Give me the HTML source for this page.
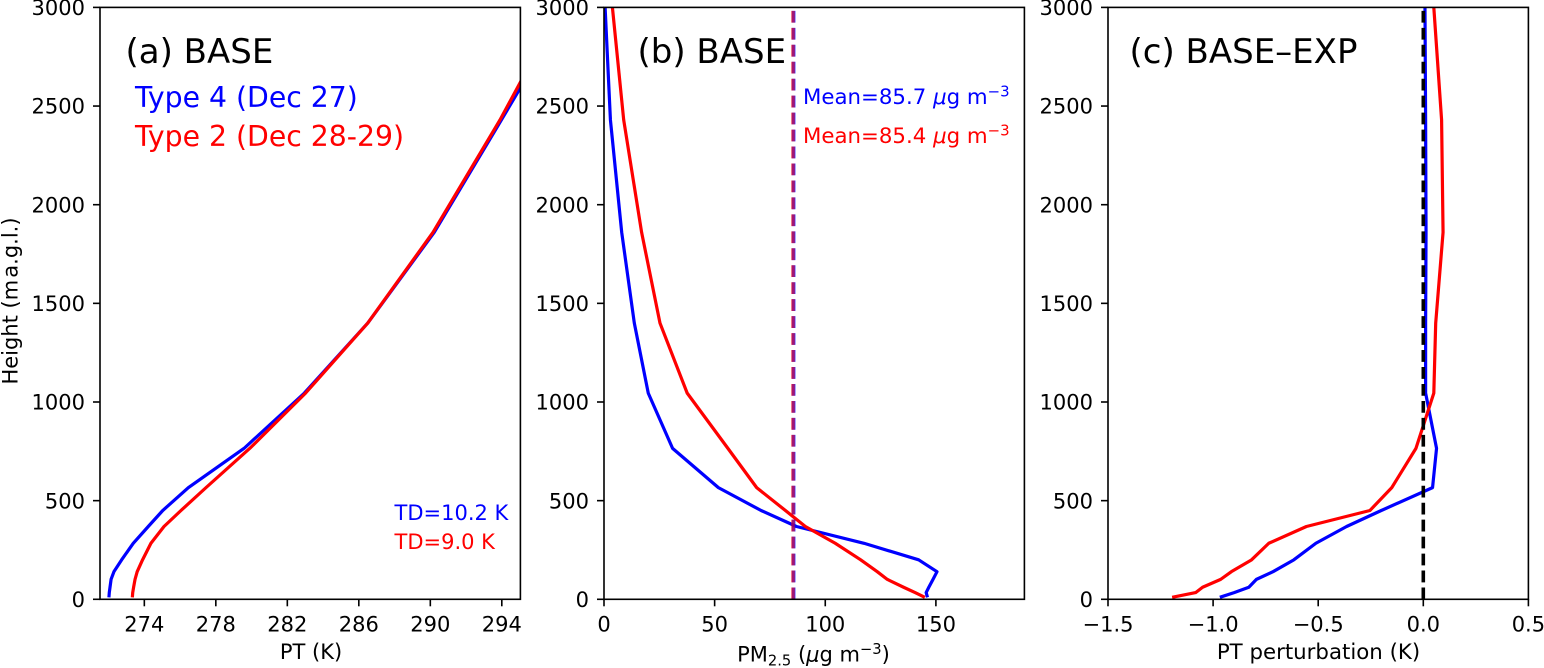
<!DOCTYPE html>
<html lang="en">
<head>
<meta charset="utf-8">
<title>Vertical profiles of PT and PM2.5</title>
<style>
html,body{margin:0;padding:0;background:#fff;}
#chart{display:block;position:absolute;left:0;top:0;}
text{font-family:"DejaVu Sans","Liberation Sans",sans-serif;font-size:21px;fill:#000;}
.title{font-size:34px;}
.legend{font-size:28.3px;}
.mean{font-size:21.3px;}
</style>
</head>
<body>
<svg id="chart" xmlns="http://www.w3.org/2000/svg" width="1544" height="668" viewBox="0 0 1544 668">
  <rect x="0" y="0" width="1544" height="668" fill="#fff"/>
  <defs>
    <clipPath id="clip-a"><rect x="100" y="7.4" width="420.4" height="591.9"/></clipPath>
    <clipPath id="clip-b"><rect x="604" y="7.4" width="420.4" height="591.9"/></clipPath>
    <clipPath id="clip-c"><rect x="1108" y="7.4" width="420.4" height="591.9"/></clipPath>
  </defs>
  <g id="panel-a"></g>
  <g id="panel-b"></g>
  <g id="panel-c"></g>

  <text transform="translate(17.5,301) rotate(-90)" text-anchor="middle">Height (m&#8202;a.g.l.)</text>

  <text class="title" x="125.5" y="63">(a) BASE</text>
  <text class="legend" x="135" y="107" style="fill:#0000ff">Type 4 (Dec 27)</text>
  <text class="legend" x="135" y="146" style="fill:#ff0000">Type 2 (Dec 28-29)</text>
  <text x="394.5" y="520" style="fill:#0000ff">TD=10.2 K</text>
  <text x="394.5" y="549" style="fill:#ff0000">TD=9.0 K</text>
  <text x="311" y="659" text-anchor="middle">PT (K)</text>

  <text class="title" x="637.5" y="63">(b) BASE</text>
  <text class="mean" x="803" y="104" style="fill:#0000ff">Mean=85.7 <tspan font-style="italic">μ</tspan>g m<tspan dy="-7.5" font-size="14.9">−3</tspan></text>
  <text class="mean" x="803" y="143" style="fill:#ff0000">Mean=85.4 <tspan font-style="italic">μ</tspan>g m<tspan dy="-7.5" font-size="14.9">−3</tspan></text>
  <text x="813.5" y="661.5" text-anchor="middle">PM<tspan dy="4" font-size="14.7">2.5</tspan><tspan dy="-4"> (</tspan><tspan font-style="italic">μ</tspan>g m<tspan dy="-7.5" font-size="14.7">−3</tspan><tspan dy="7.5">)</tspan></text>

  <text class="title" x="1129.5" y="63">(c) BASE–EXP</text>
  <text x="1318.5" y="659" text-anchor="middle" style="font-size:21.3px">PT perturbation (K)</text>
</svg>
<script>
// Shared vertical coordinate (m a.g.l.)
const heightLevels = [10, 34, 61, 101, 140, 200, 284, 369, 450, 566, 765, 1045, 1400, 1860, 2430, 3000];

// Panel (a): potential temperature (K)
const ptType4 = [272.02, 272.04, 272.08, 272.14, 272.3, 272.73, 273.38, 274.22, 275.03, 276.46, 279.58, 282.95, 286.5, 290.22, 293.98, 297.7];
const ptType2 = [273.33, 273.35, 273.4, 273.48, 273.6, 273.9, 274.37, 275.1, 276.05, 277.45, 279.9, 283.02, 286.5, 290.15, 293.9, 297.3];

// Panel (b): PM2.5 (ug m-3)
const pmType4 = [146.2, 145.6, 146.8, 148.7, 150.5, 142.2, 117.5, 87, 71, 51.7, 31, 20, 13.7, 8, 2.9, 0.5];
const pmType2 = [145, 140.6, 135.4, 128, 123.5, 116, 104.5, 91, 82, 69, 56, 37.6, 25.3, 17, 8.9, 3.8];
const meanType4 = 85.7;
const meanType2 = 85.4;

// Panel (c): PT perturbation (K)
const pertType4 = [-0.968, -0.9, -0.83, -0.794, -0.715, -0.616, -0.511, -0.365, -0.2, 0.044, 0.063, 0.011, 0.011, 0.013, 0.011, 0.008];
const pertType2 = [-1.195, -1.083, -1.05, -0.964, -0.913, -0.817, -0.735, -0.556, -0.254, -0.15, -0.035, 0.05, 0.059, 0.094, 0.087, 0.05];
const pertZero = 0;

// Tick values and labels
const yTicks = [0, 500, 1000, 1500, 2000, 2500, 3000];
const xTicksA = [274, 278, 282, 286, 290, 294];
const xTicksB = [0, 50, 100, 150];
const xTicksC = [-1.5, -1.0, -0.5, 0.0, 0.5];
const xTickLabelsC = ['−1.5', '−1.0', '−0.5', '0.0', '0.5'];

const NS = 'http://www.w3.org/2000/svg';
const plotTop = 7.4;
const plotBottom = 599.3;
const plotWidth = 420.4;
const yMax = 3000;

function yScale(h) {
  return plotBottom - (h / yMax) * (plotBottom - plotTop);
}
function makeXScale(left, xMin, xMax) {
  return function (v) {
    return left + ((v - xMin) / (xMax - xMin)) * plotWidth;
  };
}
function make(tag, attrs, parent) {
  const el = document.createElementNS(NS, tag);
  for (const k in attrs) {
    el.setAttribute(k, attrs[k]);
  }
  parent.appendChild(el);
  return el;
}
function drawSeries(parent, xs, x, color, clipId, name) {
  const points = xs.map(function (v, i) {
    return x(v).toFixed(2) + ',' + yScale(heightLevels[i]).toFixed(2);
  }).join(' ');
  const line = make('polyline', {
    points: points, fill: 'none', stroke: color, 'stroke-width': 3.2,
    'stroke-linejoin': 'round', 'clip-path': 'url(#' + clipId + ')'
  }, parent);
  
  
}
function drawVertical(parent, value, x, color, opacity, clipId, name) {
  const line = make('line', {
    x1: x(value), x2: x(value), y1: plotBottom, y2: plotTop,
    stroke: color, 'stroke-width': 3.6, 'stroke-opacity': opacity,
    'stroke-dasharray': '11.8 5.16', 'clip-path': 'url(#' + clipId + ')'
  }, parent);
  
  
}
function drawAxes(parent, left, x, xTicks, xLabels, key) {
  yTicks.forEach(function (t) {
    const y = yScale(t);
    const tick = make('line', { x1: left - 7, x2: left, y1: y, y2: y, stroke: '#000', 'stroke-width': 1.6 }, parent);
    
    
    const label = make('text', { x: left - 15, y: y + 7.6, 'text-anchor': 'end' }, parent);
    
    
    label.textContent = String(t);
  });
  xTicks.forEach(function (t, i) {
    const px = x(t);
    const tick = make('line', { x1: px, x2: px, y1: plotBottom, y2: plotBottom + 7, stroke: '#000', 'stroke-width': 1.6 }, parent);
    
    
    const label = make('text', { x: px, y: plotBottom + 32.3, 'text-anchor': 'middle' }, parent);
    
    
    label.textContent = xLabels[i];
  });
  const frame = make('rect', {
    x: left, y: plotTop, width: plotWidth, height: plotBottom - plotTop,
    fill: 'none', stroke: '#000', 'stroke-width': 1.6
  }, parent);
  
  
}

// Panel (a)
const panelA = document.getElementById('panel-a');
const xA = makeXScale(100, 271.52, 295.04);
drawSeries(panelA, ptType4, xA, '#0000ff', 'clip-a', 'pt-line-type-4');
drawSeries(panelA, ptType2, xA, '#ff0000', 'clip-a', 'pt-line-type-2');
drawAxes(panelA, 100, xA, xTicksA, xTicksA.map(String), 'a');

// Panel (b)
const panelB = document.getElementById('panel-b');
const xB = makeXScale(604, 0, 190);
drawSeries(panelB, pmType4, xB, '#0000ff', 'clip-b', 'pm25-line-type-4');
drawSeries(panelB, pmType2, xB, '#ff0000', 'clip-b', 'pm25-line-type-2');
drawVertical(panelB, meanType4, xB, '#0000ff', 0.8, 'clip-b', 'mean-line-type-4');
drawVertical(panelB, meanType2, xB, '#ff0000', 0.55, 'clip-b', 'mean-line-type-2');
drawAxes(panelB, 604, xB, xTicksB, xTicksB.map(String), 'b');

// Panel (c)
const panelC = document.getElementById('panel-c');
const xC = makeXScale(1108, -1.5, 0.5);
drawSeries(panelC, pertType4, xC, '#0000ff', 'clip-c', 'perturbation-line-type-4');
drawSeries(panelC, pertType2, xC, '#ff0000', 'clip-c', 'perturbation-line-type-2');
drawVertical(panelC, pertZero, xC, '#000000', 1, 'clip-c', 'zero-reference-line');
drawAxes(panelC, 1108, xC, xTicksC, xTickLabelsC, 'c');
</script>
</body>
</html>
